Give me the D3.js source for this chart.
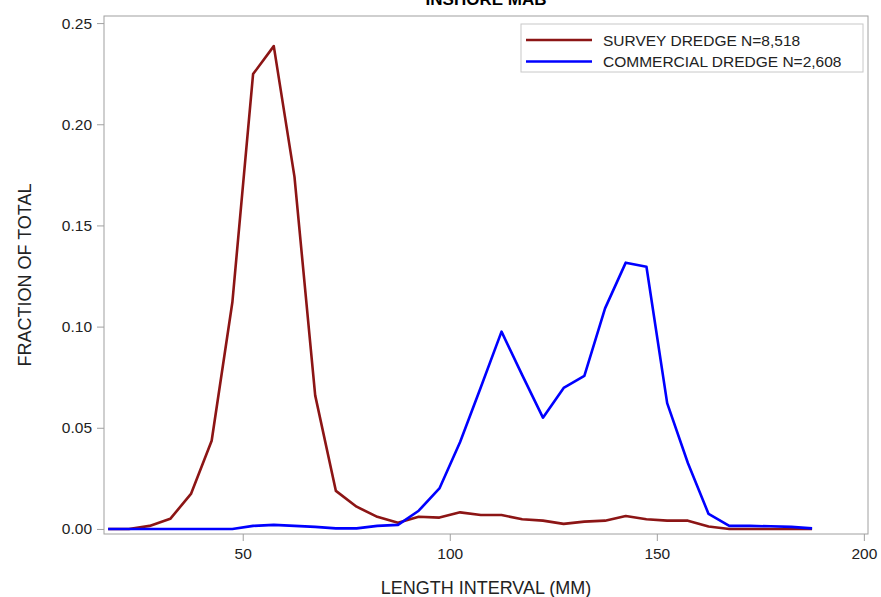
<!DOCTYPE html>
<html>
<head>
<meta charset="utf-8">
<script src="https://cdn.jsdelivr.net/npm/d3@7"></script>
<style>
  body { margin: 0; background: #fff; }
  text { font-family: "Liberation Sans", Arial, sans-serif; }
</style>
</head>
<body>
<div id="chart"></div>
<script>
// length interval midpoints (mm)
const lengths = [17.5, 22.5, 27.5, 32.5, 37.5, 42.5, 47.5, 52.5, 57.5, 62.5, 67.5, 72.5,
  77.5, 82.5, 87.5, 92.5, 97.5, 102.5, 107.5, 112.5, 117.5, 122.5, 127.5, 132.5, 137.5,
  142.5, 147.5, 152.5, 157.5, 162.5, 167.5, 172.5, 177.5, 182.5, 187.5];

const survey = [0, 0, 0.0015, 0.005, 0.0173, 0.0436, 0.112, 0.2248, 0.2386, 0.174, 0.066, 0.0188,
  0.011, 0.006, 0.003, 0.006, 0.0056, 0.0082, 0.0069, 0.0069, 0.0048, 0.0041, 0.0025, 0.0036, 0.0041,
  0.0064, 0.0048, 0.0041, 0.0041, 0.0012, 0, 0, 0, 0, 0];

const commercial = [0, 0, 0, 0, 0, 0, 0, 0.0015, 0.002, 0.0015, 0.001, 0.0003,
  0.0003, 0.0015, 0.002, 0.009, 0.020, 0.043, 0.070, 0.0975, 0.076, 0.055, 0.0697, 0.0756, 0.109,
  0.1316, 0.1296, 0.0622, 0.0326, 0.0074, 0.0015, 0.0015, 0.0013, 0.001, 0.0003];

const xTicks = [50, 100, 150, 200];
const yTicks = [0, 0.05, 0.10, 0.15, 0.20, 0.25];

const series = [
  { name: "SURVEY DREDGE N=8,518", values: survey, color: "#8c1515" },
  { name: "COMMERCIAL DREDGE N=2,608", values: commercial, color: "#0000ff" }
];

const width = 881, height = 597;
const margin = { top: 16, right: 13, bottom: 63, left: 104 };
const frameColor = "#a0a0a0";

const svg = d3.select("#chart").append("svg")
  .attr("width", width)
  .attr("height", height);

const x = d3.scaleLinear()
  .domain([16.5, 201])
  .range([margin.left, width - margin.right]);

const y = d3.scaleLinear()
  .domain([-0.0025, 0.2535])
  .range([height - margin.bottom, margin.top]);

// frame
svg.append("rect")
  .attr("x", margin.left)
  .attr("y", margin.top)
  .attr("width", width - margin.left - margin.right)
  .attr("height", height - margin.top - margin.bottom)
  .attr("fill", "none")
  .attr("stroke", frameColor);

// axes
const xAxis = svg.append("g")
  .attr("transform", `translate(0,${height - margin.bottom})`)
  .call(d3.axisBottom(x).tickValues(xTicks).tickFormat(d3.format("d")).tickSize(7).tickPadding(7));

const yAxis = svg.append("g")
  .attr("transform", `translate(${margin.left},0)`)
  .call(d3.axisLeft(y).tickValues(yTicks).tickFormat(d3.format(".2f")).tickSize(7).tickPadding(5));

[xAxis, yAxis].forEach(g => {
  g.select(".domain").remove();
  g.selectAll(".tick line").attr("stroke", frameColor);
  g.selectAll(".tick text")
    .attr("fill", "#222")
    .style("font-size", "15.5px")
    .style("font-family", "'Liberation Sans', Arial, sans-serif");
});

// lines
const line = d3.line()
  .x((d, i) => x(lengths[i]))
  .y(d => y(d));

series.forEach(s => {
  svg.append("path")
    .datum(s.values)
    .attr("fill", "none")
    .attr("stroke", s.color)
    .attr("stroke-width", 2.6)
    .attr("stroke-linejoin", "round")
    .attr("d", line);
});

// axis labels
svg.append("text")
  .attr("x", (margin.left + width - margin.right) / 2)
  .attr("y", 594)
  .attr("text-anchor", "middle")
  .attr("fill", "#222")
  .style("font-size", "18px")
  .text("LENGTH INTERVAL (MM)");

svg.append("text")
  .attr("transform", `translate(31,${(margin.top + height - margin.bottom) / 2}) rotate(-90)`)
  .attr("text-anchor", "middle")
  .attr("fill", "#222")
  .style("font-size", "18px")
  .text("FRACTION OF TOTAL");

// title (clipped at top)
svg.append("text")
  .attr("x", (margin.left + width - margin.right) / 2)
  .attr("y", 5)
  .attr("text-anchor", "middle")
  .attr("fill", "#000")
  .style("font-size", "17px")
  .style("font-weight", "bold")
  .text("INSHORE MAB");

// legend
const legend = svg.append("g").attr("transform", "translate(521,24)");
legend.append("rect")
  .attr("width", 342)
  .attr("height", 48)
  .attr("fill", "#fff")
  .attr("stroke", "#c8c8c8");

series.forEach((s, i) => {
  const ly = 16 + i * 21.5;
  legend.append("line")
    .attr("x1", 5).attr("x2", 71)
    .attr("y1", ly).attr("y2", ly)
    .attr("stroke", s.color)
    .attr("stroke-width", 2.6);
  legend.append("text")
    .attr("x", 82)
    .attr("y", ly + 5.5)
    .attr("fill", "#222")
    .style("font-size", "15.5px")
    .text(s.name);
});
</script>
</body>
</html>
